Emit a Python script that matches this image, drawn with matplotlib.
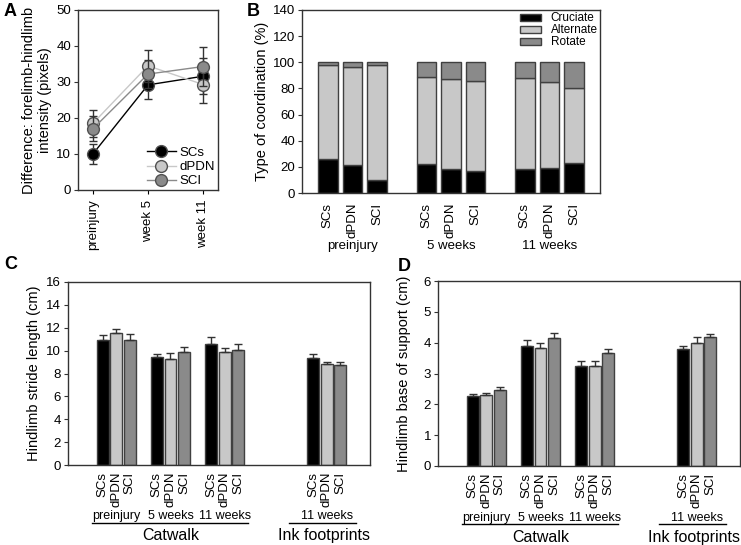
import numpy as np
import matplotlib.pyplot as plt

plt.rcParams['font.family'] = ['Liberation Sans', 'DejaVu Sans']

# panel A: forelimb-hindlimb intensity difference
timepoints = ['preinjury', 'week 5', 'week 11']
groups = ['SCs', 'dPDN', 'SCI']
a_scs = [10.0, 29.2, 31.6]
a_scs_err = [2.8, 3.8, 5.0]
a_dpdn = [18.5, 34.5, 29.3]
a_dpdn_err = [3.8, 4.5, 5.0]
a_sci = [17.0, 32.2, 34.3]
a_sci_err = [3.5, 4.0, 5.5]

# panel B: type of coordination (%)
b_periods = ['preinjury', '5 weeks', '11 weeks']
cruciate = [26, 21.5, 10, 22.3, 18.5, 16.5, 18.5, 19, 23]
alternate_top = [97.7, 96.4, 97.7, 89, 87, 85.4, 87.7, 84.6, 80]
alternate = [t - c for t, c in zip(alternate_top, cruciate)]
rotate = [100 - t for t in alternate_top]

# panel C: hindlimb stride length (cm)
c_labels = ['preinjury', '5 weeks', '11 weeks', '11 weeks']
c_scs = [10.9, 9.47, 10.54, 9.38]
c_scs_err = [0.45, 0.26, 0.66, 0.29]
c_dpdn = [11.55, 9.3, 9.84, 8.86]
c_dpdn_err = [0.35, 0.5, 0.41, 0.18]
c_sci = [10.95, 9.87, 10.05, 8.75]
c_sci_err = [0.5, 0.49, 0.49, 0.23]

# panel D: hindlimb base of support (cm)
d_scs = [2.27, 3.9, 3.23, 3.78]
d_scs_err = [0.08, 0.2, 0.16, 0.11]
d_dpdn = [2.29, 3.84, 3.23, 4.0]
d_dpdn_err = [0.08, 0.16, 0.16, 0.17]
d_sci = [2.48, 4.16, 3.65, 4.17]
d_sci_err = [0.08, 0.15, 0.13, 0.11]

colors = ['#000000', '#c8c8c8', '#8a8a8a']
edge = '#404040'
W, H = 741, 545


def axes_px(left, top, right, bottom):
    return fig.add_axes([left / W, 1 - bottom / H, (right - left) / W, (bottom - top) / H])


def style(ax):
    for s in ax.spines.values():
        s.set_color('#333333')
        s.set_linewidth(1)
    ax.tick_params(axis='y', labelsize=9.5, length=3, color='#333333', pad=2)


fig = plt.figure(figsize=(7.41, 5.45), dpi=100)

# ---- A ----
ax = axes_px(78, 10, 218, 190)
style(ax)
x = np.arange(3)
for vals, errs, col, name in [(a_scs, a_scs_err, colors[0], 'SCs'),
                              (a_dpdn, a_dpdn_err, colors[1], 'dPDN'),
                              (a_sci, a_sci_err, colors[2], 'SCI')]:
    ax.errorbar(x, vals, yerr=errs, fmt='none', ecolor='#333333', elinewidth=1, capsize=3)
    ax.plot(x, vals, '-o', color=col, markerfacecolor=col, markeredgecolor='#505050',
            markersize=8.5, lw=1, label=name)
ax.set_xlim(-0.27, 2.27)
ax.set_ylim(0, 50)
ax.set_yticks(range(0, 51, 10))
ax.set_xticks(x)
ax.set_xticklabels(timepoints, rotation=90, fontsize=9.5)
ax.tick_params(axis='x', length=3, pad=4)
ax.set_ylabel('Difference: forelimb-hindlimb\nintensity (pixels)', fontsize=10.5, labelpad=3)
ax.legend(loc='lower right', frameon=False, fontsize=9.5, handlelength=2.2,
          borderpad=0.1, labelspacing=0.15, handletextpad=0.3, borderaxespad=0.1)

# ---- B ----
ax = axes_px(302, 10, 600, 193)
style(ax)
bx = [0, 1, 2, 4, 5, 6, 8, 9, 10]
ax.bar(bx, cruciate, 0.8, color=colors[0], edgecolor=edge, lw=1, label='Cruciate')
ax.bar(bx, alternate, 0.8, bottom=cruciate, color=colors[1], edgecolor=edge, lw=1, label='Alternate')
ax.bar(bx, rotate, 0.8, bottom=alternate_top, color=colors[2], edgecolor=edge, lw=1, label='Rotate')
ax.set_xlim(-1.05, 11.05)
ax.set_ylim(0, 140)
ax.set_yticks(range(0, 141, 20))
ax.set_xticks(bx)
ax.set_xticklabels(groups * 3, rotation=90, fontsize=9.5)
ax.tick_params(axis='x', length=0, pad=7)
ax.set_ylabel('Type of coordination (%)', fontsize=10.5, labelpad=3)
for i, p in enumerate(b_periods):
    ax.text(1 + 4 * i, -0.29, p, transform=ax.get_xaxis_transform(), ha='center', va='center', fontsize=9.5)
ax.legend(loc='upper right', frameon=False, fontsize=8.5, handlelength=1.8, handleheight=0.5,
          labelspacing=0.0, handletextpad=0.8, borderaxespad=0.1, borderpad=0.1)

# ---- C and D ----
cx = [0, 1, 2, 4, 5, 6, 8, 9, 10, 15.5, 16.5, 17.5]
centers = [1, 5, 9, 16.5]


def grouped(ax, scs, scs_e, dpdn, dpdn_e, sci, sci_e):
    for k, (vals, errs) in enumerate([(scs, scs_e), (dpdn, dpdn_e), (sci, sci_e)]):
        pos = [c - 1 + k for c in centers]
        ax.bar(pos, vals, 0.88, color=colors[k], edgecolor=edge, lw=1)
        ax.errorbar(pos, vals, yerr=[np.zeros(4), errs], fmt='none', ecolor='#333333',
                    elinewidth=1, capsize=3)
    ax.set_xlim(-2.55, 19.7)
    ax.set_xticks(cx)
    ax.set_xticklabels(groups * 4, rotation=90, fontsize=9.5, linespacing=1)
    ax.tick_params(axis='x', length=0, pad=5)
    tr = ax.get_xaxis_transform()
    for c, lab in zip(centers, c_labels):
        ax.text(c, -0.28, lab, transform=tr, ha='center', va='center', fontsize=9)
    ax.plot([-0.75, 10.7], [-0.315, -0.315], color='black', lw=1, transform=tr, clip_on=False)
    ax.plot([13.7, 18.7], [-0.315, -0.315], color='black', lw=1, transform=tr, clip_on=False)
    ax.text(5, -0.385, 'Catwalk', transform=tr, ha='center', va='center', fontsize=11.5)
    ax.text(16.3, -0.385, 'Ink footprints', transform=tr, ha='center', va='center', fontsize=11.5)


ax = axes_px(68, 282, 370, 465)
style(ax)
grouped(ax, c_scs, c_scs_err, c_dpdn, c_dpdn_err, c_sci, c_sci_err)
ax.set_ylim(0, 16)
ax.set_yticks(range(0, 17, 2))
ax.set_ylabel('Hindlimb stride length (cm)', fontsize=10.5, labelpad=4)

ax = axes_px(438, 281, 740, 466)
style(ax)
grouped(ax, d_scs, d_scs_err, d_dpdn, d_dpdn_err, d_sci, d_sci_err)
ax.set_ylim(0, 6)
ax.set_yticks(range(0, 7))
ax.set_ylabel('Hindlimb base of support (cm)', fontsize=10.5, labelpad=9)

for lab, px, py in [('A', 4, 3), ('B', 247, 3), ('C', 4, 256), ('D', 398, 258)]:
    fig.text(px / W, 1 - py / H, lab, fontsize=13, fontweight='bold', va='top', ha='left')

fig.savefig('out.png', dpi=100)
